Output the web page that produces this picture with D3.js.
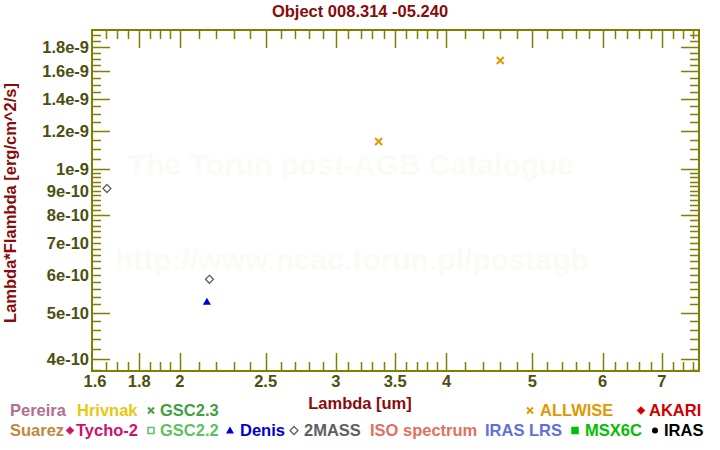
<!DOCTYPE html>
<html><head><meta charset="utf-8">
<script src="https://cdn.jsdelivr.net/npm/d3@7"></script>
<style>
html,body{margin:0;padding:0;background:#fff;}
svg text{font-family:"Liberation Sans",Arial,sans-serif;font-weight:bold;}
</style></head>
<body>
<svg id="c" width="720" height="450"></svg>
<script>
// ---- data ----
const title = "Object 008.314 -05.240";
const twomassX = [1.655, 2.16];
const twomassY = [9.09e-10, 5.87e-10];
const denisX = [2.146];
const denisY = [5.27e-10];
const allwiseX = [3.353, 4.60];
const allwiseY = [1.140e-9, 1.685e-9];
const xTickLabels = [1.6, 1.8, 2, 2.5, 3, 3.5, 4, 5, 6, 7];
const xLongTicks = [1.8, 2, 2.5, 3, 3.5, 4, 5, 6, 7];
const xShortTicks = [1.65, 1.7, 1.75, 1.85, 1.9, 1.95, 2.1, 2.2, 2.3, 2.4, 2.6, 2.7, 2.8, 2.9,
  3.1, 3.2, 3.3, 3.4, 3.6, 3.7, 3.8, 3.9, 4.2, 4.4, 4.6, 4.8, 5.2, 5.4, 5.6, 5.8,
  6.2, 6.4, 6.6, 6.8, 7.2, 7.4, 7.6];
const yTickLabels = [4e-10, 5e-10, 6e-10, 7e-10, 8e-10, 9e-10, 1e-9, 1.2e-9, 1.4e-9, 1.6e-9, 1.8e-9];
const yTickText = ["4e-10","5e-10","6e-10","7e-10","8e-10","9e-10","1e-9","1.2e-9","1.4e-9","1.6e-9","1.8e-9"];
const yLongTicks = [4e-10, 5e-10, 8e-10, 1e-9, 1.2e-9, 1.4e-9, 1.6e-9, 1.8e-9];
const yShortTicks = [3.8e-10, 4.2e-10, 4.4e-10, 4.6e-10, 4.8e-10, 5.2e-10, 5.4e-10, 5.6e-10, 5.8e-10,
  6e-10, 6.2e-10, 6.4e-10, 6.6e-10, 6.8e-10, 7e-10, 7.2e-10, 7.4e-10, 7.6e-10, 7.8e-10,
  8.2e-10, 8.4e-10, 8.6e-10, 8.8e-10, 9e-10, 9.2e-10, 9.4e-10, 9.6e-10, 9.8e-10,
  1.05e-9, 1.1e-9, 1.15e-9, 1.25e-9, 1.3e-9, 1.35e-9, 1.45e-9, 1.5e-9, 1.55e-9,
  1.65e-9, 1.7e-9, 1.75e-9, 1.85e-9, 1.9e-9];
const legendRow1 = [
  {t:"Pereira", c:"#b07090", m:null, tx:10},
  {t:"Hrivnak", c:"#e8c810", m:null, tx:77},
  {t:"GSC2.3", c:"#40a040", m:"x", mx:151, tx:160},
  {t:"ALLWISE", c:"#e09a00", m:"x", mx:530, tx:540},
  {t:"AKARI", c:"#d00000", m:"dfill", mx:641, tx:649}
];
const legendRow2 = [
  {t:"Suarez", c:"#c08840", m:null, tx:10},
  {t:"Tycho-2", c:"#d0106a", m:"dfill", mx:70, tx:76},
  {t:"GSC2.2", c:"#60c060", m:"sopen", mx:151, tx:160},
  {t:"Denis", c:"#0000cc", m:"tri", mx:230, tx:240},
  {t:"2MASS", c:"#606060", m:"dopen", mx:294, tx:304},
  {t:"ISO spectrum", c:"#e07060", m:null, tx:370},
  {t:"IRAS LRS", c:"#6070d8", m:null, tx:485},
  {t:"MSX6C", c:"#00c000", m:"sfill", mx:575, tx:585},
  {t:"IRAS", c:"#000000", m:"circ", mx:655, tx:664}
];

// ---- layout ----
const L = 92, R = 699, T = 30, B = 371;
const FS = 16.5;
const svg = d3.select("#c");
const xs = d3.scaleLog().domain([1.592, 7.71]).range([L, R]);
const ys = d3.scaleLog().domain([3.774e-10, 1.951e-9]).range([B, T]);
const olive = "#808000", lab = "#4e4e10", dred = "#880c0c";

// watermark
svg.append("text").attr("x", 351).attr("y", 175).attr("text-anchor","middle")
  .attr("font-size", 30).attr("fill", "#fbfbf6").text("The Torun post-AGB Catalogue");
svg.append("text").attr("x", 352).attr("y", 270).attr("text-anchor","middle")
  .attr("font-size", 30).attr("fill", "#fbfbf6").text("http://www.ncac.torun.pl/postagb");

// tick labels
svg.append("g").selectAll("text").data(xTickLabels).join("text")
  .attr("x", d => xs(d) + (d === 1.6 ? 1 : 0)).attr("y", 387).attr("text-anchor", "middle")
  .attr("font-size", FS).attr("fill", lab).text(d => String(d));
svg.append("g").selectAll("text").data(yTickLabels).join("text")
  .attr("x", 89).attr("y", d => ys(d) + 6).attr("text-anchor", "end")
  .attr("font-size", FS).attr("fill", lab).text((d, i) => yTickText[i]);

// titles
svg.append("text").attr("x", 360).attr("y", 17).attr("text-anchor", "middle")
  .attr("font-size", FS).attr("fill", dred).text(title);
svg.append("text").attr("x", 360).attr("y", 409).attr("text-anchor", "middle")
  .attr("font-size", FS).attr("fill", dred).text("Lambda [um]");
svg.append("text").attr("transform", "translate(16,203) rotate(-90)").attr("text-anchor", "middle")
  .attr("font-size", FS).attr("fill", dred).text("Lambda*Flambda [erg/cm^2/s]");

// markers
function marker(g, type, cx, cy, col, s) {
  s = s || 4;
  if (type === "x") {
    g.append("path").attr("d", `M${cx-s+1},${cy-s+1}L${cx+s-1},${cy+s-1}M${cx-s+1},${cy+s-1}L${cx+s-1},${cy-s+1}`)
      .attr("stroke", col).attr("stroke-width", 2).attr("fill", "none");
  } else if (type === "dopen" || type === "dfill") {
    g.append("path").attr("d", `M${cx},${cy-s}L${cx+s},${cy}L${cx},${cy+s}L${cx-s},${cy}Z`)
      .attr("stroke", col).attr("stroke-width", type === "dopen" ? 1.3 : 0.5)
      .attr("fill", type === "dfill" ? col : "none");
  } else if (type === "tri") {
    g.append("path").attr("d", `M${cx},${cy-s}L${cx+s},${cy+s-1}L${cx-s},${cy+s-1}Z`).attr("fill", col);
  } else if (type === "sopen" || type === "sfill") {
    g.append("rect").attr("x", cx - s + 1).attr("y", cy - s + 1).attr("width", 2*s - 2).attr("height", 2*s - 2)
      .attr("fill", type === "sfill" ? col : "none").attr("stroke", col).attr("stroke-width", 1.5);
  } else if (type === "circ") {
    g.append("circle").attr("cx", cx).attr("cy", cy).attr("r", s - 1).attr("fill", col);
  }
}
const pts = svg.append("g");
twomassX.forEach((v, i) => marker(pts, "dopen", xs(v), ys(twomassY[i]), "#606060", 4));
denisX.forEach((v, i) => marker(pts, "tri", xs(v), ys(denisY[i]), "#0000cc", 4));
allwiseX.forEach((v, i) => marker(pts, "x", xs(v), ys(allwiseY[i]), "#e09a00", 4.5));

// legend
const lg = svg.append("g");
function legendRow(items, base) {
  items.forEach(it => {
    if (it.m) marker(lg, it.m, it.mx, base - 5.5, it.c, 4);
    lg.append("text").attr("x", it.tx).attr("y", base).attr("font-size", FS).attr("fill", it.c).text(it.t);
  });
}
legendRow(legendRow1, 416);
legendRow(legendRow2, 436);

// frame + ticks drawn last, as one stroked path
let d = `M${L},${T}H${R}V${B}H${L}Z`;
xShortTicks.forEach(v => { const p = Math.round(xs(v)) + 0.5; d += `M${p},${B}V${B-9}M${p},${T}V${T+9}`; });
xLongTicks.forEach(v => { const p = Math.round(xs(v)) + 0.5; d += `M${p},${B}V${B-18}M${p},${T}V${T+18}`; });
yShortTicks.forEach(v => { const p = Math.round(ys(v)) + 0.5; d += `M${L},${p}H${L+9}M${R},${p}H${R-9}`; });
yLongTicks.forEach(v => { const p = Math.round(ys(v)) + 0.5; d += `M${L},${p}H${L+18}M${R},${p}H${R-18}`; });
svg.append("path").attr("d", d).attr("fill", "none").attr("stroke", olive).attr("stroke-width", 1.5);
svg.append("rect").attr("x", L).attr("y", T).attr("width", R - L).attr("height", B - T)
  .attr("fill", "none").attr("stroke", olive).attr("stroke-width", 2);
</script>
</body></html>
